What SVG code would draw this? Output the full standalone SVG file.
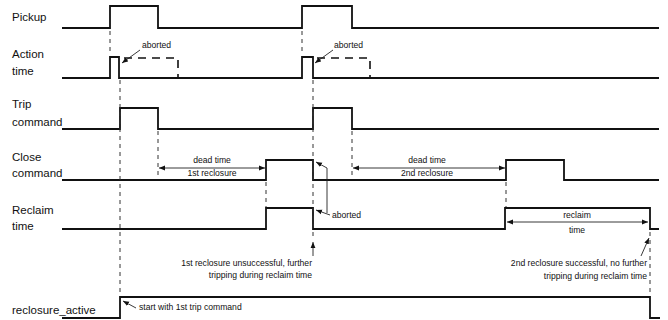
<svg xmlns="http://www.w3.org/2000/svg" width="668" height="320" viewBox="0 0 668 320">
<style>
.sig{fill:none;stroke:#111;stroke-width:1.8;stroke-linejoin:miter}
.lbl{font-family:"Liberation Sans",Arial,sans-serif;font-size:11.5px;fill:#111}
.ann{font-family:"Liberation Sans",Arial,sans-serif;font-size:8.6px;fill:#111}
.vd{fill:none;stroke:#333;stroke-width:1;stroke-dasharray:4 4}
.ab{fill:none;stroke:#111;stroke-width:1.6;stroke-dasharray:8 6}
.ln{fill:none;stroke:#222;stroke-width:0.9}
</style>
<defs>
<marker id="ah" viewBox="0 0 10 10" refX="10" refY="5" markerWidth="6" markerHeight="6" markerUnits="userSpaceOnUse" orient="auto-start-reverse">
<path d="M0,1 L10,5 L0,9 z" fill="#111"/>
</marker>
</defs>
<rect width="668" height="320" fill="#fff"/>
<g id="pickup">
<text class="lbl" x="12" y="20.5">Pickup</text>
<path class="sig" d="M62,28 H110 V6 H158 V28 H302 V6 H352 V28 H659"/>
</g>
<g id="action-time">
<text class="lbl" x="12" y="57.5">Action</text>
<text class="lbl" x="12" y="75">time</text>
<path class="sig" d="M62,78 H110 V57 H119 V78 H302 V57 H313 V78 H659"/>
<path class="ab" d="M124,58 H178 V78"/>
<path class="ab" d="M317,58 H370 V78"/>
</g>
<g id="trip-command">
<text class="lbl" x="12" y="108">Trip</text>
<text class="lbl" x="12" y="126">command</text>
<path class="sig" d="M62,129 H120 V108 H158 V129 H313 V108 H352 V129 H659"/>
</g>
<g id="close-command">
<text class="lbl" x="12" y="161">Close</text>
<text class="lbl" x="12" y="177">command</text>
<path class="sig" d="M62,180 H266 V160 H313 V180 H506 V160 H564 V180 H659"/>
</g>
<g id="reclaim-time">
<text class="lbl" x="12" y="214">Reclaim</text>
<text class="lbl" x="12" y="230">time</text>
<path class="sig" d="M62,229 H266 V208 H313 V229 H505 V208 H650 V229 H659"/>
</g>
<g id="reclosure-active">
<text class="lbl" x="12" y="314">reclosure_active</text>
<path class="sig" d="M62,318 H120 V297 H650 V318 H660"/>
</g>
<g id="connectors">
<path class="vd" d="M110,31 V55 M302,31 V55 M120,80 V296 M158,131 V179 M352,131 V179 M266,182 V207 M313,80 V240 M506,182 V207 M650,232 V296"/>
<path class="ln" d="M140,50 L122,63" marker-end="url(#ah)"/>
<path class="ln" d="M333,50 L315,63" marker-end="url(#ah)"/>
<path class="ln" d="M159,168 H265" marker-start="url(#ah)" marker-end="url(#ah)"/>
<path class="ln" d="M353,168 H505" marker-start="url(#ah)" marker-end="url(#ah)"/>
<path class="ln" d="M327,213 V168 L316,162" marker-end="url(#ah)"/>
<path class="ln" d="M330,215 L316,210" marker-end="url(#ah)"/>
<path class="ln" d="M313,256 V242" marker-end="url(#ah)"/>
<path class="ln" d="M507,222 H648" marker-start="url(#ah)" marker-end="url(#ah)"/>
<path class="ln" d="M641,256 L649,238" marker-end="url(#ah)"/>
<path class="ln" d="M136,308 L123,301" marker-end="url(#ah)"/>
</g>
<g id="annotations">
<text class="ann" x="142" y="48">aborted</text>
<text class="ann" x="334" y="48">aborted</text>
<text class="ann" x="212" y="163" text-anchor="middle">dead time</text>
<text class="ann" x="212" y="176" text-anchor="middle">1st reclosure</text>
<text class="ann" x="427" y="163" text-anchor="middle">dead time</text>
<text class="ann" x="427" y="176" text-anchor="middle">2nd reclosure</text>
<text class="ann" x="332" y="218">aborted</text>
<text class="ann" x="577" y="218" text-anchor="middle">reclaim</text>
<text class="ann" x="577" y="233" text-anchor="middle">time</text>
<text class="ann" x="312" y="266" text-anchor="end">1st reclosure unsuccessful, further</text>
<text class="ann" x="312" y="278" text-anchor="end">tripping during reclaim time</text>
<text class="ann" x="647" y="266" text-anchor="end">2nd reclosure successful, no further</text>
<text class="ann" x="647" y="279" text-anchor="end">tripping during reclaim time</text>
<text class="ann" x="139" y="310">start with 1st trip command</text>
</g>
</svg>
